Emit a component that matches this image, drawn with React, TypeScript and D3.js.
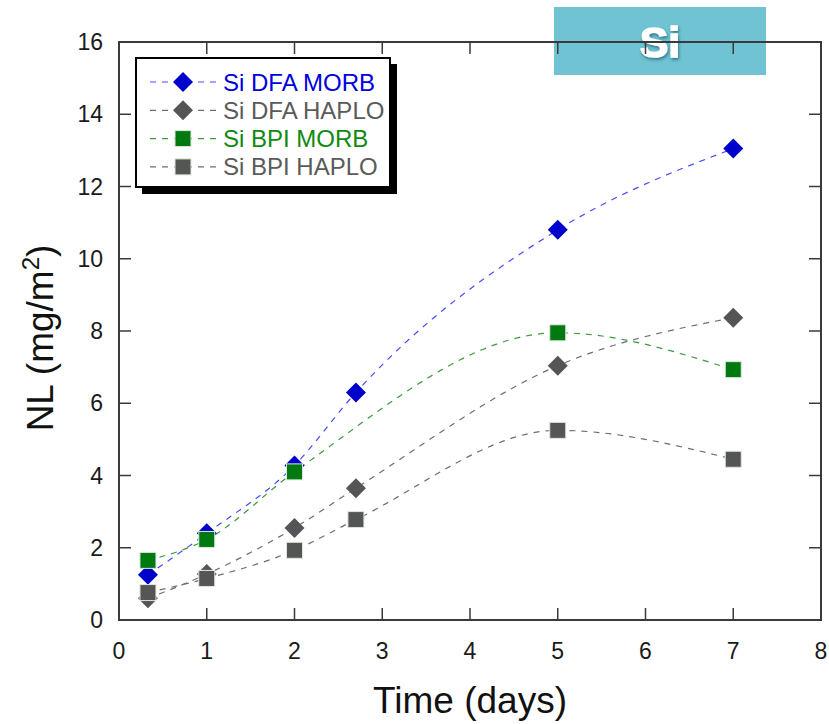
import React, { useEffect, useRef } from 'react';
import * as d3 from 'd3';

// days of sampling
const timeDfaMorb = [0.33, 1, 2, 2.7, 5, 7];
const dfaMorb = [1.25, 2.4, 4.28, 6.3, 10.8, 13.05];
const timeDfaHaplo = [0.33, 1, 2, 2.7, 5, 7];
const dfaHaplo = [0.6, 1.27, 2.55, 3.65, 7.04, 8.37];
const timeBpiMorb = [0.33, 1, 2, 5, 7];
const bpiMorb = [1.65, 2.23, 4.1, 7.95, 6.93];
const timeBpiHaplo = [0.33, 1, 2, 2.7, 5, 7];
const bpiHaplo = [0.76, 1.15, 1.93, 2.78, 5.25, 4.45];

const xTicks = [0, 1, 2, 3, 4, 5, 6, 7, 8];
const yTicks = [0, 2, 4, 6, 8, 10, 12, 14, 16];

const series = [
  { name: 'Si DFA MORB', xs: timeDfaMorb, ys: dfaMorb, shape: 'diamond', fill: '#0000cc', line: '#4a4aff', text: '#0000dd' },
  { name: 'Si DFA HAPLO', xs: timeDfaHaplo, ys: dfaHaplo, shape: 'diamond', fill: '#555555', line: '#6e6e6e', text: '#5a5a5a' },
  { name: 'Si BPI MORB', xs: timeBpiMorb, ys: bpiMorb, shape: 'square', fill: '#007a10', line: '#3c9a3c', text: '#108a10' },
  { name: 'Si BPI HAPLO', xs: timeBpiHaplo, ys: bpiHaplo, shape: 'square', fill: '#555555', line: '#6e6e6e', text: '#5a5a5a' },
];

const FONT = '"Liberation Sans", Arimo, Arial, sans-serif';

const App = () => {
  const ref = useRef<SVGSVGElement | null>(null);

  useEffect(() => {
    const svg = d3.select(ref.current);
    svg.selectAll('*').remove();

    const left = 119, right = 821, top = 42, bottom = 620;
    const x = d3.scaleLinear().domain([0, 8]).range([left, right]);
    const y = d3.scaleLinear().domain([0, 16]).range([bottom, top]);

    const drawMarker = (g, shape, cx, cy, fill) => {
      if (shape === 'diamond') {
        const r = 10;
        g.append('path')
          .attr('d', `M${cx},${cy - r}L${cx + r},${cy}L${cx},${cy + r}L${cx - r},${cy}Z`)
          .attr('fill', fill);
      } else {
        const s = 16;
        g.append('rect')
          .attr('x', cx - s / 2)
          .attr('y', cy - s / 2)
          .attr('width', s)
          .attr('height', s)
          .attr('fill', fill)
          .attr('stroke', '#dde8dd')
          .attr('stroke-width', 1);
      }
    };

    // title box
    svg.append('rect').attr('x', 554).attr('y', 7).attr('width', 212).attr('height', 68).attr('fill', '#6fc3d3');
    const defs = svg.append('defs');
    const f = defs.append('filter').attr('id', 'sh').attr('x', '-20%').attr('y', '-20%').attr('width', '150%').attr('height', '150%');
    f.append('feDropShadow').attr('dx', 1).attr('dy', 2).attr('stdDeviation', 1.5).attr('flood-color', '#1b5a66').attr('flood-opacity', 0.7);
    svg.append('text')
      .attr('x', 660)
      .attr('y', 57)
      .attr('text-anchor', 'middle')
      .attr('fill', '#ffffff')
      .attr('stroke', '#ffffff')
      .attr('stroke-width', 1.5)
      .attr('filter', 'url(#sh)')
      .style('font-family', FONT)
      .style('font-weight', 'bold')
      .style('font-size', '43px')
      .text('Si');

    // frame
    svg.append('rect')
      .attr('x', left).attr('y', top).attr('width', right - left).attr('height', bottom - top)
      .attr('fill', 'none').attr('stroke', '#3a3a3a').attr('stroke-width', 2);

    const tickLen = 12;
    const ticks = svg.append('g').attr('stroke', '#3a3a3a').attr('stroke-width', 1.5);
    xTicks.slice(1, -1).forEach((t) => {
      ticks.append('line').attr('x1', x(t)).attr('x2', x(t)).attr('y1', bottom).attr('y2', bottom - tickLen);
      ticks.append('line').attr('x1', x(t)).attr('x2', x(t)).attr('y1', top).attr('y2', top + tickLen);
    });
    yTicks.slice(1, -1).forEach((t) => {
      ticks.append('line').attr('x1', left).attr('x2', left + tickLen).attr('y1', y(t)).attr('y2', y(t));
      ticks.append('line').attr('x1', right).attr('x2', right - tickLen).attr('y1', y(t)).attr('y2', y(t));
    });

    svg.append('g').selectAll('text').data(xTicks).enter().append('text')
      .attr('x', (d) => x(d)).attr('y', bottom + 39)
      .attr('text-anchor', 'middle')
      .attr('fill', '#1a1a1a')
      .style('font-family', FONT).style('font-size', '23px')
      .text((d) => d);
    svg.append('g').selectAll('text').data(yTicks).enter().append('text')
      .attr('x', left - 16).attr('y', (d) => y(d) + 8)
      .attr('text-anchor', 'end')
      .attr('fill', '#1a1a1a')
      .style('font-family', FONT).style('font-size', '23px')
      .text((d) => d);

    svg.append('text')
      .attr('x', (left + right) / 2).attr('y', 713)
      .attr('text-anchor', 'middle')
      .attr('fill', '#111')
      .style('font-family', FONT).style('font-size', '37px')
      .text('Time (days)');
    const yl = svg.append('text')
      .attr('transform', `translate(53,${338}) rotate(-90)`)
      .attr('text-anchor', 'middle')
      .attr('fill', '#111')
      .style('font-family', FONT).style('font-size', '37px');
    yl.append('tspan').text('NL (mg/m');
    yl.append('tspan').attr('dy', -14).style('font-size', '24px').text('2');
    yl.append('tspan').attr('dy', 14).text(')');

    // series
    const line = d3.line<number[]>().x((d) => x(d[0])).y((d) => y(d[1])).curve(d3.curveMonotoneX);
    series.forEach((s) => {
      const pts = s.xs.map((v, i) => [v, s.ys[i]]);
      svg.append('path')
        .attr('d', line(pts))
        .attr('fill', 'none')
        .attr('stroke', s.line)
        .attr('stroke-width', 1.2)
        .attr('stroke-dasharray', '6,6');
    });
    series.forEach((s) => {
      const g = svg.append('g');
      s.xs.forEach((v, i) => drawMarker(g, s.shape, x(v), y(s.ys[i]), s.fill));
    });

    // legend
    const lg = svg.append('g');
    lg.append('rect').attr('x', 142).attr('y', 64).attr('width', 255).attr('height', 130).attr('fill', '#000');
    lg.append('rect').attr('x', 136).attr('y', 58).attr('width', 254).attr('height', 129).attr('fill', '#fff').attr('stroke', '#000').attr('stroke-width', 2);
    series.forEach((s, i) => {
      const cy = 82 + i * 28.3;
      lg.append('line')
        .attr('x1', 150).attr('x2', 218).attr('y1', cy).attr('y2', cy)
        .attr('stroke', s.line).attr('stroke-width', 1.2).attr('stroke-dasharray', '6,6');
      drawMarker(lg, s.shape, 183, cy, s.fill);
      lg.append('text')
        .attr('x', 223).attr('y', cy + 8.5)
        .attr('fill', s.text)
        .style('font-family', FONT).style('font-size', '24px')
        .text(s.name);
    });
  }, []);

  return (
    <div style={{ position: 'absolute', left: 0, top: 0 }}>
      <svg ref={ref} width={829} height={724} style={{ display: 'block', background: '#fff' }} />
    </div>
  );
};

export default App;
